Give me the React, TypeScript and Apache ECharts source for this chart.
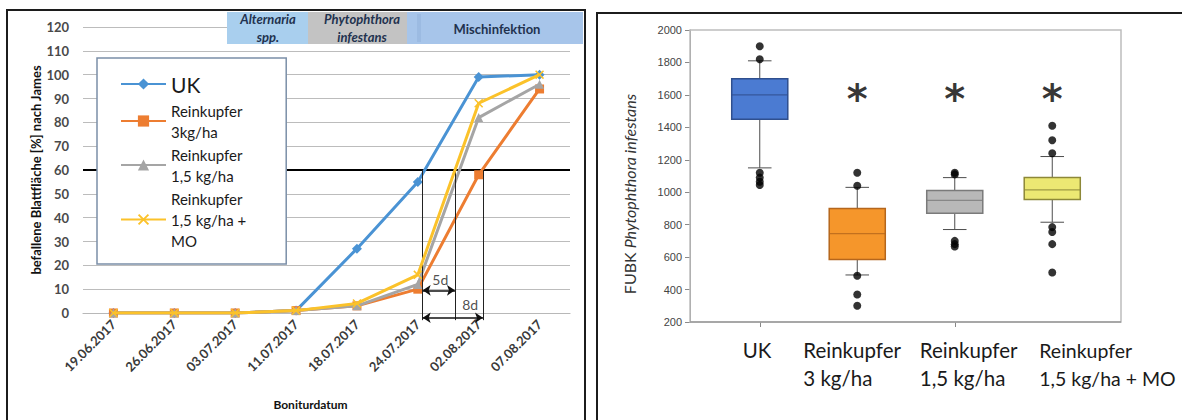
import React, { useEffect, useRef } from 'react';
import * as echarts from 'echarts';

// ---------- Left chart data ----------
const dates = ['19.06.2017', '26.06.2017', '03.07.2017', '11.07.2017', '18.07.2017', '24.07.2017', '02.08.2017', '07.08.2017'];
const seriesNames = ['UK', 'Reinkupfer\n3kg/ha', 'Reinkupfer\n1,5 kg/ha', 'Reinkupfer\n1,5 kg/ha +\nMO'];
const ukValues = [0, 0, 0, 1, 27, 55, 99, 100];
const cu3Values = [0, 0, 0, 1, 3, 10, 58, 94];
const cu15Values = [0, 0, 0, 1, 3, 12, 82, 96];
const cu15MoValues = [0, 0, 0, 1, 4, 16, 88, 100];
const threshold = 60;
// positions (in category units) where curves cross the threshold
const crossingX = [5.08, 5.61, 6.07];
const arrow5d = { from: 5.08, to: 5.61, y: 9.5, label: '5d', labelX: 5.37, labelY: 14 };
const arrow8d = { from: 5.08, to: 6.07, y: -2, label: '8d', labelX: 5.86, labelY: 3.6 };
const phases = ['Alternaria\nspp.', 'Phytophthora\ninfestans', 'Mischinfektion'];

// ---------- Right chart data ----------
const boxCategories = ['UK', 'Reinkupfer\n3 kg/ha', 'Reinkupfer\n1,5 kg/ha', 'Reinkupfer\n1,5 kg/ha + MO'];
// [lower whisker, Q1, median, Q3, upper whisker]
const boxStats = [
  [1150, 1450, 1600, 1700, 1810],
  [490, 585, 745, 900, 1030],
  [770, 870, 950, 1010, 1090],
  [815, 955, 1015, 1090, 1220],
];
const outliers = [
  [1900, 1820, 1120, 1090, 1065, 1045],
  [1120, 1040, 485, 370, 300],
  [1120, 1110, 700, 680, 665],
  [1410, 1320, 1240, 785, 755, 680, 505],
];
const significance = ['', '*', '*', '*'];
const significanceLevel = 1575;

const boxFill = ['#4b7bd2', '#f5962b', '#b8b8b8', '#ece873'];
const boxStroke = ['#2f4f8e', '#b5661c', '#7a7a7a', '#8d8838'];
const lineColors = ['#4a93d4', '#ed7d31', '#a5a5a5', '#fbc22a'];
const xSymbol = 'path://M0,1.2L1.2,0L5,3.8L8.8,0L10,1.2L6.2,5L10,8.8L8.8,10L5,6.2L1.2,10L0,8.8L3.8,5Z';
const lineSymbols = ['diamond', 'rect', 'triangle', xSymbol];
const lineData = [ukValues, cu3Values, cu15Values, cu15MoValues];

// layout constants
const G1 = { left: 83, top: 27, width: 487, height: 286 };
const G2 = { left: 711, top: 30, width: 390, height: 292 };
const FONT = 'Lato, "Open Sans", sans-serif';

function buildOption() {
  const band2 = G2.width / boxCategories.length;
  const labelOffsets = [-17, -54, -35, -13];

  const lineSeries = lineData.map((vals, i) => ({
    name: seriesNames[i],
    type: 'line',
    xAxisIndex: 0,
    yAxisIndex: 0,
    data: vals,
    symbol: lineSymbols[i],
    symbolSize: i === 0 ? 10 : 9,
    lineStyle: { width: 3, color: lineColors[i] },
    itemStyle: { color: lineColors[i] },
    z: 3 + i,
    markLine: i === 0 ? {
      silent: true,
      symbol: 'none',
      label: { show: false },
      lineStyle: { color: '#000', width: 2, type: 'solid' },
      data: [{ yAxis: threshold }],
      z: 2,
    } : undefined,
  }));

  return {
    animation: false,
    textStyle: { fontFamily: FONT },
    grid: [
      { ...G1 },
      { ...G2 },
    ],
    legend: {
      data: seriesNames,
      orient: 'vertical',
      left: 97,
      top: 58,
      itemWidth: 45,
      itemHeight: 14,
      itemGap: 2,
      padding: [12, 40, 13, 23],
      backgroundColor: '#fff',
      borderColor: '#7b8fa8',
      borderWidth: 1.5,
      selectedMode: false,
      formatter: (n: string) => (n === 'UK' ? '{uk|UK}' : n),
      textStyle: {
        fontFamily: FONT,
        fontSize: 15,
        lineHeight: 21,
        color: '#1a1a1a',
        rich: { uk: { fontSize: 21, lineHeight: 28, fontFamily: FONT, color: '#1a1a1a' } },
      },
    },
    xAxis: [
      {
        type: 'category',
        gridIndex: 0,
        data: dates,
        boundaryGap: true,
        axisLine: { lineStyle: { color: '#b8b8b8', width: 1.2 } },
        axisTick: { show: false },
        axisLabel: { rotate: 45, fontSize: 13, fontWeight: 'bold', color: '#3a3a3a', margin: 9, fontFamily: FONT },
        name: 'Boniturdatum',
        nameLocation: 'middle',
        nameGap: 85,
        nameTextStyle: { fontSize: 12, fontWeight: 'bold', color: '#111', padding: [0, 32, 0, 0], fontFamily: FONT },
      },
      {
        type: 'value',
        gridIndex: 0,
        min: -0.5,
        max: 7.5,
        show: false,
      },
      {
        type: 'category',
        gridIndex: 1,
        data: boxCategories,
        axisLine: { show: false },
        axisTick: { show: true, alignWithLabel: true, length: 5, lineStyle: { color: '#888' } },
        axisLabel: { show: false },
      },
    ],
    yAxis: [
      {
        type: 'value',
        gridIndex: 0,
        min: 0,
        max: 120,
        interval: 10,
        axisLine: { show: false },
        axisTick: { show: false },
        splitLine: { lineStyle: { color: '#bcbcbc', width: 1.2 } },
        axisLabel: { fontSize: 13, fontWeight: 'bold', color: '#4a4a4a', margin: 14, fontFamily: FONT },
        name: 'befallene Blattfläche [%] nach James',
        nameLocation: 'middle',
        nameGap: 40,
        nameTextStyle: { fontSize: 13, fontWeight: 'bold', color: '#111', fontFamily: FONT },
      },
      {
        type: 'value',
        gridIndex: 1,
        min: 200,
        max: 2000,
        interval: 200,
        offset: 21,
        axisLine: { show: true, lineStyle: { color: '#8a8a8a' } },
        axisTick: { show: true, length: 5, lineStyle: { color: '#8a8a8a' } },
        splitLine: { show: false },
        axisLabel: {
          fontSize: 11,
          color: '#444',
          margin: 8,
          fontFamily: 'Arial, "Liberation Sans", sans-serif',
          formatter: (v: number) => String(v),
        },
        name: '{n|FUBK }{i|Phytophthora infestans}',
        nameLocation: 'middle',
        nameGap: 53,
        nameTextStyle: {
          padding: [0, 36, 0, 0],
          rich: {
            n: { fontSize: 16, color: '#333', fontFamily: FONT },
            i: { fontSize: 16, color: '#333', fontStyle: 'italic', fontFamily: FONT },
          },
        },
      },
    ],
    series: [
      ...lineSeries,
      {
        name: 'crossings',
        type: 'lines',
        coordinateSystem: 'cartesian2d',
        xAxisIndex: 1,
        yAxisIndex: 0,
        clip: false,
        symbol: 'none',
        lineStyle: { color: '#222', width: 1, opacity: 1 },
        data: crossingX.map((x) => ({ coords: [[x, threshold], [x, -3]] })),
        z: 6,
      },
      {
        name: 'arrows',
        type: 'lines',
        coordinateSystem: 'cartesian2d',
        xAxisIndex: 1,
        yAxisIndex: 0,
        clip: false,
        symbol: ['arrow', 'arrow'],
        symbolSize: 8,
        lineStyle: { color: '#111', width: 1.5, opacity: 1 },
        data: [arrow5d, arrow8d].map((a) => ({ coords: [[a.from, a.y], [a.to, a.y]] })),
        z: 7,
      },
      {
        name: 'arrowLabels',
        type: 'scatter',
        xAxisIndex: 1,
        yAxisIndex: 0,
        symbolSize: 1,
        itemStyle: { color: 'transparent' },
        data: [arrow5d, arrow8d].map((a) => [a.labelX, a.labelY, a.label]),
        label: {
          show: true,
          position: 'inside',
          formatter: (p: any) => p.value[2],
          fontSize: 14,
          color: '#222',
          fontFamily: FONT,
        },
        z: 8,
      },
      {
        name: 'boxes',
        type: 'custom',
        xAxisIndex: 2,
        yAxisIndex: 1,
        data: boxStats.map((s, i) => [i, ...s]),
        encode: { x: 0, y: [1, 2, 3, 4, 5] },
        renderItem: (params: any, api: any) => {
          const i = api.value(0);
          const lo = api.coord([i, api.value(1)]);
          const q1 = api.coord([i, api.value(2)]);
          const med = api.coord([i, api.value(3)]);
          const q3 = api.coord([i, api.value(4)]);
          const hi = api.coord([i, api.value(5)]);
          const bw = api.size([1, 0])[0] * 0.575;
          const cw = bw * 0.42;
          const x = q1[0];
          const wl = { stroke: '#4d4d4d', lineWidth: 1 };
          return {
            type: 'group',
            children: [
              { type: 'line', shape: { x1: x, y1: hi[1], x2: x, y2: q3[1] }, style: wl },
              { type: 'line', shape: { x1: x, y1: q1[1], x2: x, y2: lo[1] }, style: wl },
              { type: 'line', shape: { x1: x - cw / 2, y1: hi[1], x2: x + cw / 2, y2: hi[1] }, style: wl },
              { type: 'line', shape: { x1: x - cw / 2, y1: lo[1], x2: x + cw / 2, y2: lo[1] }, style: wl },
              {
                type: 'rect',
                shape: { x: x - bw / 2, y: q3[1], width: bw, height: q1[1] - q3[1] },
                style: { fill: boxFill[i], stroke: boxStroke[i], lineWidth: 1.5 },
              },
              {
                type: 'line',
                shape: { x1: x - bw / 2, y1: med[1], x2: x + bw / 2, y2: med[1] },
                style: { stroke: boxStroke[i], lineWidth: 1.2, opacity: 0.8 },
              },
            ],
          };
        },
        z: 2,
      },
      {
        name: 'outliers',
        type: 'scatter',
        xAxisIndex: 2,
        yAxisIndex: 1,
        symbol: 'circle',
        symbolSize: 8,
        itemStyle: { color: '#000' },
        data: outliers.flatMap((vals, i) => vals.map((v) => [i, v])),
        z: 4,
      },
      {
        name: 'significance',
        type: 'scatter',
        xAxisIndex: 2,
        yAxisIndex: 1,
        symbolSize: 1,
        itemStyle: { color: 'transparent' },
        data: significance.map((s, i) => [i, significanceLevel, s]),
        label: {
          show: true,
          position: 'inside',
          formatter: (p: any) => p.value[2],
          fontSize: 40,
          fontWeight: 'bold',
          color: '#000',
          fontFamily: '"DejaVu Sans", sans-serif',
        },
        z: 5,
      },
    ],
    graphic: [
      // panel frames
      { type: 'rect', z: 20, shape: { x: 7, y: 10, width: 578, height: 440 }, style: { fill: 'none', stroke: '#1c1c1c', lineWidth: 2 } },
      { type: 'rect', z: 20, shape: { x: 597, y: 13, width: 620, height: 440 }, style: { fill: 'none', stroke: '#1c1c1c', lineWidth: 2 } },
      // boxplot frame
      { type: 'rect', z: 1, shape: { x: 690, y: 30, width: 431, height: 292 }, style: { fill: 'none', stroke: '#bdbdbd', lineWidth: 1.5 } },
      { type: 'line', z: 1, shape: { x1: 690, y1: 322, x2: 1121, y2: 322 }, style: { stroke: '#9a9a9a', lineWidth: 1.5 } },
      // phase header boxes
      { type: 'rect', z: 10, shape: { x: 227, y: 12, width: 81, height: 32 }, style: { fill: '#a9cfee' } },
      { type: 'rect', z: 10, shape: { x: 308, y: 12, width: 99, height: 32 }, style: { fill: '#c3c3c3' } },
      { type: 'rect', z: 10, shape: { x: 407, y: 12, width: 176, height: 32 }, style: { fill: '#a7c5ea' } },
      { type: 'rect', z: 10, shape: { x: 417, y: 14, width: 4, height: 28 }, style: { fill: '#9cbbe2' } },
      {
        type: 'text', z: 11, x: 268, y: 28,
        style: { text: phases[0], align: 'center', verticalAlign: 'middle', fontFamily: FONT, fontSize: 13, fontStyle: 'italic', fontWeight: 'bold', lineHeight: 18, fill: '#22324f' },
      },
      {
        type: 'text', z: 11, x: 362, y: 28,
        style: { text: phases[1], align: 'center', verticalAlign: 'middle', fontFamily: FONT, fontSize: 13, fontStyle: 'italic', fontWeight: 'bold', lineHeight: 18, fill: '#22324f' },
      },
      {
        type: 'text', z: 11, x: 497, y: 29,
        style: { text: phases[2], align: 'center', verticalAlign: 'middle', fontFamily: FONT, fontSize: 13, fontWeight: 'bold', fill: '#22324f' },
      },
      // boxplot category labels
      ...boxCategories.map((c, i) => ({
        type: 'text',
        z: 11,
        x: G2.left + band2 * (i + 0.5) + labelOffsets[i],
        y: 336,
        style: { text: c, align: 'left', verticalAlign: 'top', fontFamily: FONT, fontSize: i === 3 ? 19.5 : 20.5, lineHeight: 28, fill: '#1a1a1a' },
      })),
    ],
  };
}

export default function App() {
  const ref = useRef<HTMLDivElement>(null);
  useEffect(() => {
    document.body.style.margin = '0';
    const chart = echarts.init(ref.current as HTMLDivElement, null, { renderer: 'svg' });
    chart.setOption(buildOption() as any);
    return () => chart.dispose();
  }, []);
  return <div ref={ref} style={{ width: 1182, height: 420, background: '#fff' }} />;
}
